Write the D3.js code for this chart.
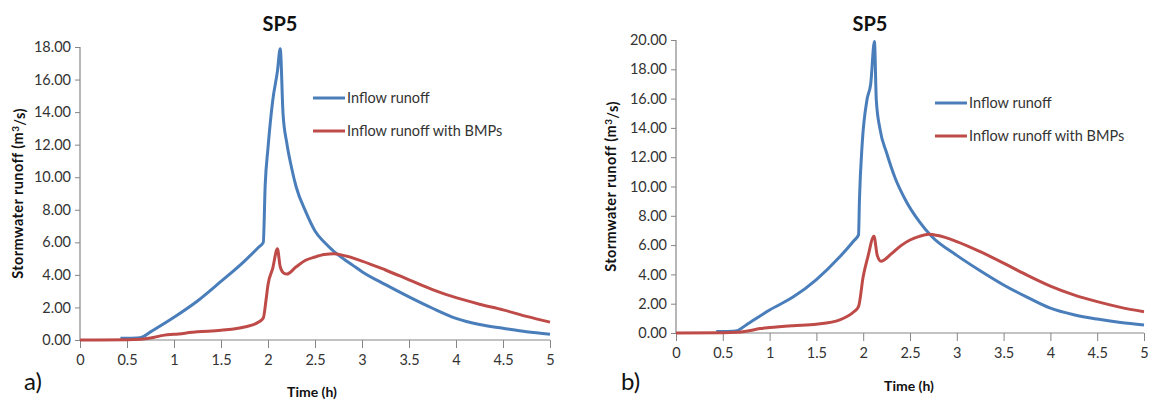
<!DOCTYPE html>
<html>
<head>
<meta charset="utf-8">
<script src="https://cdn.jsdelivr.net/npm/d3@7"></script>
<style>
  body { margin: 0; background: #fff; }
  svg { display: block; font-family: Lato, "Open Sans", sans-serif; }
</style>
</head>
<body>
<div class="d3-chart"></div>
<script>
// panel a) values
const inflowTimeA = [0.43, 0.5, 0.6, 0.65, 0.75, 1.0, 1.25, 1.5, 1.75, 1.9, 1.95, 1.97, 2.0, 2.05, 2.1, 2.13, 2.16, 2.2, 2.25, 2.3, 2.4, 2.5, 2.6, 2.7, 2.8, 2.9, 3.0, 3.25, 3.5, 3.75, 4.0, 4.25, 4.5, 4.75, 5.0];
const inflowA = [0.1, 0.1, 0.12, 0.15, 0.5, 1.4, 2.4, 3.6, 4.85, 5.7, 6.0, 9.5, 11.8, 14.7, 16.5, 17.9, 13.9, 12.1, 10.6, 9.4, 7.9, 6.7, 6.0, 5.45, 5.0, 4.6, 4.2, 3.4, 2.65, 1.95, 1.33, 0.95, 0.72, 0.5, 0.35];
const bmpTimeA = [0, 0.5, 0.65, 0.75, 0.9, 1.0, 1.25, 1.5, 1.75, 1.9, 1.95, 1.98, 2.0, 2.05, 2.1, 2.13, 2.17, 2.2, 2.3, 2.4, 2.5, 2.6, 2.7, 2.8, 3.0, 3.25, 3.5, 3.75, 4.0, 4.25, 4.5, 4.75, 5.0];
const bmpA = [0, 0.02, 0.05, 0.12, 0.3, 0.35, 0.5, 0.6, 0.8, 1.1, 1.35, 2.5, 3.4, 4.4, 5.6, 4.5, 4.1, 4.05, 4.5, 4.9, 5.1, 5.25, 5.3, 5.2, 4.85, 4.3, 3.7, 3.1, 2.6, 2.2, 1.85, 1.45, 1.1];

// panel b)
const inflowTimeB = [0.43, 0.5, 0.6, 0.65, 0.75, 1.0, 1.25, 1.5, 1.75, 1.9, 1.95, 1.96, 1.99, 2.04, 2.08, 2.12, 2.14, 2.18, 2.25, 2.34, 2.45, 2.6, 2.73, 3.0, 3.25, 3.5, 3.75, 4.0, 4.25, 4.5, 4.75, 5.0];
const inflowB = [0.1, 0.1, 0.12, 0.15, 0.55, 1.57, 2.45, 3.65, 5.2, 6.3, 6.7, 9.1, 13.0, 15.9, 17.0, 19.9, 15.9, 13.9, 12.3, 10.6, 9.1, 7.6, 6.6, 5.3, 4.25, 3.28, 2.45, 1.7, 1.25, 0.95, 0.72, 0.55];
const bmpTimeB = [0, 0.5, 0.65, 0.75, 0.9, 1.0, 1.25, 1.5, 1.75, 1.9, 1.95, 2.0, 2.05, 2.115, 2.15, 2.19, 2.3, 2.4, 2.5, 2.6, 2.7, 2.8, 3.0, 3.25, 3.5, 3.75, 4.0, 4.25, 4.5, 4.75, 5.0];
const bmpB = [0, 0.02, 0.05, 0.12, 0.3, 0.37, 0.5, 0.6, 0.9, 1.45, 1.8, 3.85, 5.2, 6.6, 5.3, 4.9, 5.4, 5.95, 6.35, 6.6, 6.74, 6.65, 6.24, 5.55, 4.77, 3.95, 3.2, 2.6, 2.14, 1.75, 1.45];

const xTicks = [0, 0.5, 1, 1.5, 2, 2.5, 3, 3.5, 4, 4.5, 5];
const yTicksA = d3.range(0, 18.01, 2);
const yTicksB = d3.range(0, 20.01, 2);

const seriesNames = ["Inflow runoff", "Inflow runoff with BMPs"];
const color = d3.scaleOrdinal().domain(seriesNames).range(["#4a7ebb", "#be4b48"]);

const svg = d3.select(".d3-chart")
  .append("svg")
  .attr("width", 1150)
  .attr("height", 401);

drawPanel({
  left: 80, right: 550, top: 47, bottom: 340, yMax: 18, yTicks: yTicksA,
  series: [[inflowTimeA, inflowA], [bmpTimeA, bmpA]],
  titleX: 280, legendX: 313, legendY: 98,
  yLabel: "Stormwater runoff (m", yLabelX: 18, tag: "a)", tagX: 24, timeX: 312, timeY: 397
});
drawPanel({
  left: 676, right: 1144, top: 40, bottom: 333, yMax: 20, yTicks: yTicksB,
  series: [[inflowTimeB, inflowB], [bmpTimeB, bmpB]],
  titleX: 870, legendX: 935, legendY: 103,
  yLabel: "Stormwater runoff  (m", yLabelX: 611, tag: "b)", tagX: 621, timeX: 909, timeY: 391
});

function drawPanel(p) {
  const x = d3.scaleLinear().domain([0, 5]).range([p.left, p.right]);
  const y = d3.scaleLinear().domain([0, p.yMax]).range([p.bottom, p.top]);

  // Add X axis
  const gx = svg.append("g")
    .attr("transform", `translate(0, ${p.bottom})`)
    .call(d3.axisBottom(x).tickValues(xTicks).tickSize(8).tickPadding(7).tickFormat(d3.format("")));
  // Add Y axis
  const gy = svg.append("g")
    .attr("transform", `translate(${p.left}, 0)`)
    .call(d3.axisLeft(y).tickValues(p.yTicks).tickSize(5).tickPadding(4).tickFormat(d3.format(".2f")));

  [gx, gy].forEach(g => {
    g.select(".domain").attr("stroke", "#868686").attr("stroke-width", 1.2);
    g.selectAll(".tick line").attr("stroke", "#868686");
    g.selectAll("text").attr("fill", "#333").style("font-size", "14.5px").style("font-family", "Lato, sans-serif");
  });
  gx.select(".domain").attr("d", `M${p.left},0H${p.right}`);
  gy.select(".domain").attr("d", `M0,${p.bottom}V${p.top}`);

  // lines
  p.series.forEach((s, i) => {
    const pts = s[0].map((t, j) => [t, s[1][j]]);
    svg.append("path")
      .datum(pts)
      .attr("fill", "none")
      .attr("stroke", color(seriesNames[i]))
      .attr("stroke-width", 3)
      .attr("stroke-linejoin", "round")
      .attr("d", d3.line().x(d => x(d[0])).y(d => y(d[1])).curve(d3.curveMonotoneX));
  });

  // title
  svg.append("text")
    .attr("x", p.titleX).attr("y", 31)
    .attr("text-anchor", "middle")
    .style("font-size", "20px").style("font-weight", "bold")
    .attr("fill", "#111")
    .text("SP5");

  // legend
  seriesNames.forEach((name, i) => {
    const ly = p.legendY + i * 33;
    svg.append("line")
      .attr("x1", p.legendX).attr("x2", p.legendX + 32)
      .attr("y1", ly).attr("y2", ly)
      .attr("stroke", color(name)).attr("stroke-width", 3);
    svg.append("text")
      .attr("x", p.legendX + 34).attr("y", ly + 5)
      .style("font-size", "14.5px").attr("fill", "#333")
      .text(name);
  });

  // y axis title
  const yl = svg.append("text")
    .attr("transform", `translate(${p.yLabelX}, ${(p.top + p.bottom) / 2}) rotate(-90)`)
    .attr("text-anchor", "middle")
    .attr("dy", "0.35em")
    .style("font-size", "14.5px").style("font-weight", "bold")
    .style("letter-spacing", "0.4px")
    .attr("fill", "#111");
  yl.append("tspan").text(p.yLabel);
  yl.append("tspan").attr("dy", "-0.4em").style("font-size", "10px").text("3");
  yl.append("tspan").attr("dy", "0.4em").text("/s)");

  // x axis title
  svg.append("text")
    .attr("x", p.timeX).attr("y", p.timeY)
    .attr("text-anchor", "middle")
    .style("font-size", "14px").style("font-weight", "bold")
    .attr("fill", "#111")
    .text("Time (h)");

  // panel tag
  svg.append("text")
    .attr("x", p.tagX).attr("y", 390)
    .style("font-size", "24px")
    .attr("fill", "#111")
    .text(p.tag);
}
</script>
</body>
</html>
